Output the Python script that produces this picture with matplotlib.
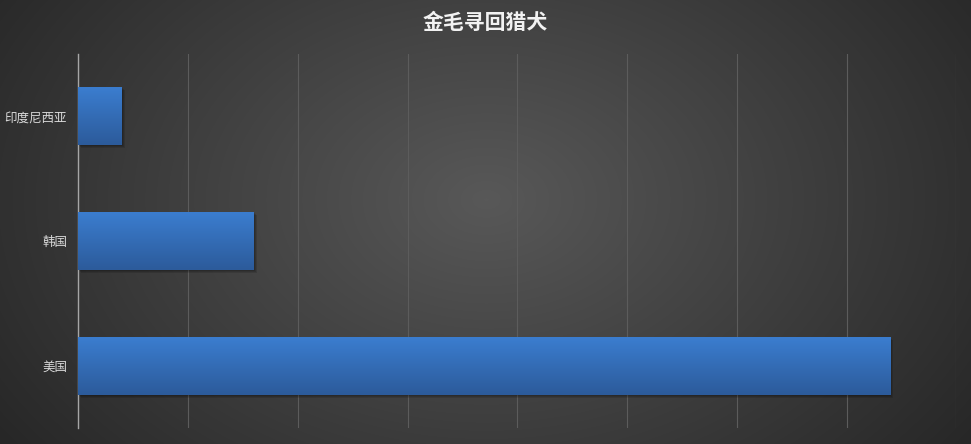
import matplotlib
matplotlib.use('Agg')
import matplotlib.pyplot as plt
import numpy as np
from matplotlib.colors import LinearSegmentedColormap

plt.rcParams['font.family'] = ['Noto Sans CJK SC', 'DejaVu Sans']

# Data
countries = ["美国", "韩国", "印度尼西亚"]
values = [7.4, 1.6, 0.4]
title = "金毛寻回猎犬"

W, H = 971, 444
fig = plt.figure(figsize=(W / 100, H / 100), dpi=100)

# radial background
bg = fig.add_axes([0, 0, 1, 1])
yy, xx = np.mgrid[0:H, 0:W]
r = np.sqrt(((xx - W * 0.5) / (W * 0.62)) ** 2 + ((yy - H * 0.45) / (H * 0.95)) ** 2)
r = np.clip(r, 0, 1)
bg_cmap = LinearSegmentedColormap.from_list('bg', ['#585858', '#272727'])
bg.imshow(r, cmap=bg_cmap, aspect='auto', extent=[0, 1, 0, 1], origin='upper')
bg.axis('off')

ax = fig.add_axes([78.3 / W, 1 - 428 / H, 878 / W, 374 / H])
ax.patch.set_alpha(0)
y = np.arange(len(countries))
bars = ax.barh(y, values, height=0.465, color='#3470bb', zorder=3)

bar_cmap = LinearSegmentedColormap.from_list('bar', ['#2c5b9b', '#3b7dcf'])
grad = np.linspace(0, 1, 64).reshape(-1, 1)
for b in bars:
    x0, y0, w, h = b.get_x(), b.get_y(), b.get_width(), b.get_height()
    # soft shadow, a few faint layers
    for k in range(1, 4):
        ax.add_patch(plt.Rectangle((x0 + 0.008 * k, y0 - 0.008 * k), w, h,
                                   color='black', alpha=0.12, lw=0, zorder=2))
    im = ax.imshow(grad, cmap=bar_cmap, aspect='auto', origin='lower',
                   extent=[x0, x0 + w, y0, y0 + h], zorder=4)
    im.set_clip_path(b)

ax.set_xlim(0, 8)
ax.set_ylim(-0.5, len(countries) - 0.5)
ax.set_xticks(np.arange(0, 9))
ax.xaxis.grid(True, color='#5c5c5c', lw=0.8, zorder=0)
ax.tick_params(axis='x', length=0, labelbottom=False)
ax.tick_params(axis='y', length=0, pad=8, labelsize=9, labelcolor='#d9d9d9')
ax.set_yticks(y)
ax.set_yticklabels(countries)
for s in ['top', 'right', 'bottom']:
    ax.spines[s].set_visible(False)
ax.spines['left'].set_color('#a6a6a6')
ax.spines['left'].set_linewidth(1)

fig.text(485 / W, 1 - 22 / H, title, ha='center', va='center', fontsize=15,
         fontweight='bold', color='#f2f2f2')

fig.savefig('out.png', dpi=100)
